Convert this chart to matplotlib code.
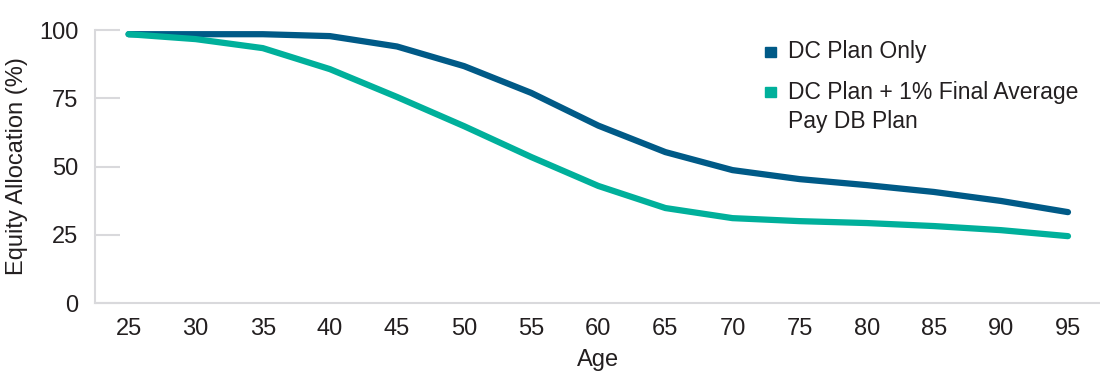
import matplotlib
matplotlib.use("Agg")
import matplotlib.pyplot as plt
from matplotlib.patches import Rectangle

plt.rcParams['font.family'] = ['Liberation Sans', 'DejaVu Sans']

ages = [25, 30, 35, 40, 45, 50, 55, 60, 65, 70, 75, 80, 85, 90, 95]
dc_only = [98.5, 98.5, 98.5, 97.8, 94.0, 86.8, 77.0, 65.0, 55.3, 48.7, 45.4, 43.2, 40.7, 37.4, 33.3]
dc_plus_db = [98.5, 96.7, 93.4, 85.7, 75.5, 64.8, 53.5, 42.9, 34.8, 31.1, 30.0, 29.3, 28.2, 26.7, 24.5]
series_names = ["DC Plan Only", "DC Plan + 1% Final Average\nPay DB Plan"]
colors = ["#005a87", "#00b09b"]
text_color = "#231f20"
axis_color = "#d9d9dc"

W, H = 1100, 386
fig = plt.figure(figsize=(W / 100, H / 100), dpi=100)
ax = fig.add_axes([0.0864, 0.215, 0.915, 0.707])

pos = list(range(len(ages)))
for vals, c in zip([dc_only, dc_plus_db], colors):
    ax.plot(pos, vals, color=c, lw=4.5, solid_capstyle='round', solid_joinstyle='round')

ax.set_xlim(-0.5, len(ages) - 0.5)
ax.set_ylim(0, 100)
ax.set_xticks(pos)
ax.set_xticklabels([str(a) for a in ages])
ax.set_yticks([0, 25, 50, 75, 100])

for s in ["top", "right"]:
    ax.spines[s].set_visible(False)
for s in ["left", "bottom"]:
    ax.spines[s].set_color(axis_color)
    ax.spines[s].set_linewidth(1.5)

ax.tick_params(axis='x', length=0, pad=11, labelsize=17, labelcolor=text_color)
ax.tick_params(axis='y', direction='in', length=18, width=1.5, color=axis_color,
               pad=12, labelsize=17, labelcolor=text_color)

ax.set_xlabel("Age", fontsize=17, color=text_color, labelpad=6)
ax.set_ylabel("Equity Allocation (%)", fontsize=17, color=text_color, labelpad=8)

# legend drawn by hand so the swatch sits on the first text line
swatch_rows = [52, 91.7]   # pixel rows from top
text_rows = [58.3, 127.7]  # baselines of the last text line
for name, c, sy, ty in zip(series_names, colors, swatch_rows, text_rows):
    fig.patches.append(Rectangle((765 / W, 1 - (sy + 5) / H), 11 / W, 10 / H,
                                 transform=fig.transFigure, color=c))
    fig.text(788 / W, 1 - ty / H, name, fontsize=16.5, color=text_color,
             va='baseline', ha='left', linespacing=1.3)

fig.savefig("out.png", dpi=100)
